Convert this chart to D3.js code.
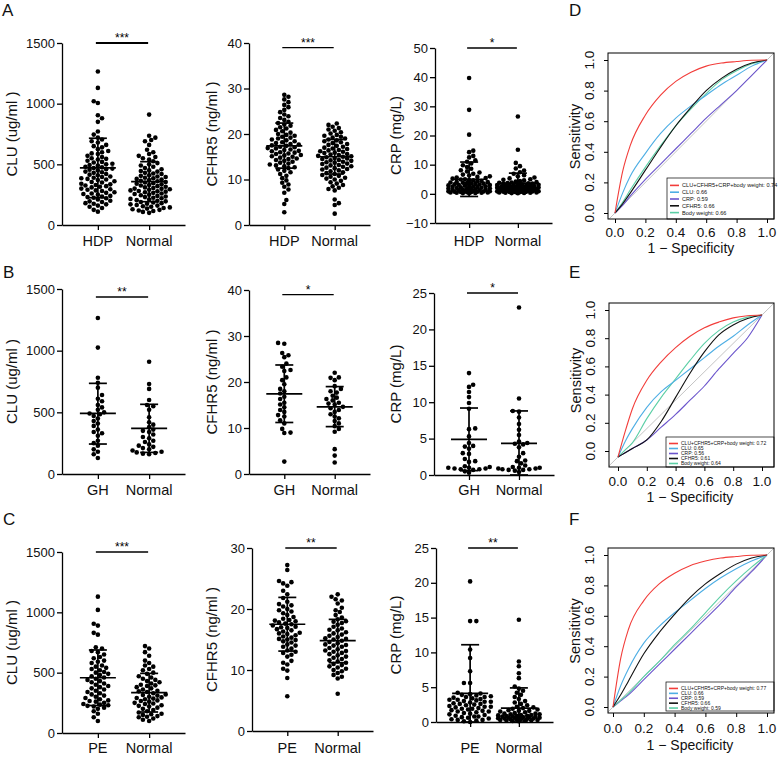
<!DOCTYPE html>
<html>
<head>
<meta charset="utf-8">
<script src="https://cdn.jsdelivr.net/npm/d3@7"></script>
<style>
body { margin: 0; background: #fff; }
svg { display: block; font-family: "Liberation Sans", Arial, sans-serif; }
</style>
</head>
<body>
<svg id="fig" width="778" height="757"></svg>
<script>
// ---- group names and axis ticks ----
const groupsA = ["HDP", "Normal"];
const groupsB = ["GH", "Normal"];
const groupsC = ["PE", "Normal"];

const cluTicks = [0, 500, 1000, 1500];
const cfhr5Ticks40 = [0, 10, 20, 30, 40];
const cfhr5Ticks30 = [0, 10, 20, 30];
const crpTicksA = [-10, 0, 10, 20, 30, 40, 50];
const crpTicks25 = [0, 5, 10, 15, 20, 25];

// ---- row A: HDP vs Normal ----
const cluHdp = [1265,1130,1020,1005,905,880,850,770,745,720,705,690,680,660,650,640,625,610,600,590,
  585,570,560,550,545,540,530,520,515,505,500,495,490,480,475,470,465,460,455,450,
  440,435,430,420,415,410,400,395,390,385,380,375,370,360,355,350,340,335,330,325,
  320,315,310,300,295,290,285,280,270,265,260,255,250,240,235,230,225,220,210,200,
  195,190,180,175,170,160,150,140,125,110];
const cluNormalA = [910,735,720,700,690,660,620,600,585,570,560,550,540,525,510,500,490,480,470,460,
  450,445,440,430,425,420,410,405,400,395,390,385,380,375,370,365,360,355,350,345,
  340,335,330,325,320,315,310,305,300,298,295,290,285,280,278,275,270,265,260,255,
  250,245,240,235,230,225,220,215,210,205,200,195,190,185,180,175,170,165,160,155,
  150,145,140,135,130,125,120,115,108,100];
const cfhr5Hdp = [28.6,28.2,27.6,27.0,26.4,25.9,25.3,24.8,24.3,23.9,23.5,23.1,22.7,22.4,22.1,21.8,21.5,21.2,20.9,20.6,
  20.3,20.0,19.8,19.6,19.4,19.2,19.0,18.8,18.6,18.4,18.2,18.0,17.8,17.7,17.5,17.4,17.2,17.1,16.9,16.8,
  16.6,16.5,16.3,16.2,16.0,15.9,15.7,15.6,15.4,15.3,15.1,15.0,14.8,14.6,14.5,14.3,14.1,13.9,13.7,13.5,
  13.3,13.1,12.9,12.7,12.5,12.2,11.9,11.6,11.2,10.8,10.3,9.8,9.3,8.9,8.4,7.8,7.1,5.5,4.6,2.8];
const cfhr5NormalA = [22.3,22.0,21.6,21.3,21.0,20.7,20.4,20.1,19.8,19.6,19.4,19.2,19.0,18.8,18.6,18.4,18.2,18.0,17.8,17.6,
  17.4,17.2,17.0,16.8,16.7,16.5,16.4,16.2,16.1,15.9,15.8,15.6,15.5,15.4,15.2,15.1,15.0,14.9,14.7,14.6,
  14.5,14.3,14.2,14.1,13.9,13.8,13.7,13.5,13.4,13.2,13.1,12.9,12.8,12.6,12.5,12.3,12.2,12.0,11.8,11.6,
  11.4,11.2,11.0,10.8,10.6,10.4,10.2,10.0,9.7,9.4,9.1,8.8,8.5,8.2,7.9,7.6,5.6,4.8,4.4,2.5];
const crpHdp = [39.7,28.8,20.3,14.8,14.3,13.0,12.5,11.5,11.0,10.4,9.8,9.2,8.6,8.1,7.7,7.3,6.9,6.6,6.3,6.0,
  5.8,5.6,5.4,5.2,5.0,4.9,4.7,4.6,4.4,4.3,4.1,4.0,3.9,3.8,3.7,3.6,3.5,3.4,3.3,3.2,
  3.1,3.0,2.9,2.8,2.7,2.6,2.5,2.4,2.3,2.2,2.1,2.0,1.9,1.8,1.7,1.6,1.5,1.45,1.4,1.3,
  1.25,1.2,1.1,1.0,0.95,0.9,0.85,0.8,0.75,0.7,0.65,0.6,0.55,0.5,0.45,0.4,0.35,0.3,0.25,0.2];
const crpNormalA = [26.5,15.1,10.6,9.5,8.7,8.0,7.4,6.9,6.4,6.0,5.6,5.3,5.0,4.8,4.6,4.4,4.2,4.0,3.9,3.8,
  3.7,3.6,3.5,3.4,3.3,3.2,3.1,3.0,2.9,2.8,2.7,2.6,2.5,2.4,2.3,2.2,2.1,2.0,1.9,1.8,
  1.7,1.6,1.5,1.4,1.3,1.2,1.1,1.0,0.9,0.8,0.7,0.6,0.5,0.4,0.3,0.2,1.95,1.75,1.55,1.35,
  1.15,0.95,0.75,0.55,0.35,2.45,2.65,2.85,3.05,1.45,1.25,1.05,0.85,0.65,0.45,0.25,2.15,2.35,1.65,1.85];

// ---- row B: GH vs Normal ----
const cluGh = [1265,1025,780,740,700,640,610,590,560,540,520,500,490,485,470,450,430,410,390,360,
  340,330,310,270,250,230,200,180,160,130];
const cluNormalB = [910,730,690,600,560,550,520,460,420,400,380,360,350,340,320,300,290,270,260,240,
  230,220,210,200,190,180,175,170,165,160];
const cfhr5Gh = [28.5,28.3,26.3,25.8,25.4,24.0,23.3,22.6,22.4,21.0,20.4,19.5,18.5,18.0,17.5,16.8,16.3,15.5,15.1,14.5,
  13.9,13.5,12.8,12.5,11.7,11.0,9.8,9.0,8.9,2.7];
const cfhr5NormalB = [22.0,21.0,20.9,20.4,19.1,18.5,18.0,17.7,17.0,16.6,16.3,16.0,15.5,15.3,15.1,14.6,14.3,13.9,13.5,13.0,
  12.5,12.1,11.5,11.0,10.4,9.8,9.2,5.4,4.0,2.5];
const crpGh = [14.0,12.4,12.1,11.4,10.7,9.9,9.1,6.4,6.3,5.3,4.4,4.0,3.9,3.6,3.0,2.9,2.2,1.9,1.8,1.2,
  1.1,1.0,1.0,0.9,0.9,0.8,0.8,0.7,0.5,0.3];
const crpNormalB = [23.0,10.5,8.8,8.7,7.9,7.0,6.2,5.5,4.6,4.4,4.3,4.2,3.8,3.0,2.5,2.0,1.9,1.6,1.3,1.1,
  1.0,1.0,0.9,0.9,0.8,0.8,0.7,0.7,0.6,0.4];

// ---- row C: PE vs Normal ----
const cluPe = [1130,1020,905,890,830,815,710,700,680,670,650,630,620,600,590,580,560,550,540,530,
  520,505,500,490,480,470,460,450,440,430,420,410,400,390,380,370,360,350,340,330,
  320,310,300,290,280,270,265,260,250,240,235,230,225,220,210,200,180,160,130,100];
const cluNormalC = [720,700,670,640,600,580,560,550,530,520,500,490,470,460,450,440,430,420,410,400,
  395,390,380,370,360,350,345,340,330,320,315,310,300,295,290,285,280,270,265,260,
  250,245,240,230,225,220,210,200,190,180,170,160,155,150,140,135,130,120,110,100];
const cfhr5Pe = [27.2,26.4,24.6,24.4,24.2,23.8,23.0,22.4,21.8,21.2,20.8,20.6,20.4,20.0,19.8,19.6,19.3,19.0,18.7,18.4,
  18.2,18.1,18.0,17.8,17.6,17.5,17.3,17.1,17.0,16.9,16.7,16.5,16.3,16.1,16.0,15.9,15.7,15.5,15.3,15.1,
  15.0,14.9,14.7,14.5,14.2,14.0,13.8,13.5,13.2,13.0,12.8,12.5,12.2,11.5,11.2,10.9,10.2,9.9,8.7,5.7];
const cfhr5NormalC = [22.4,22.0,21.6,21.4,20.9,20.2,19.8,19.5,19.0,18.6,18.3,18.0,17.9,17.7,17.4,17.1,16.8,16.6,16.5,16.2,
  16.0,15.8,15.6,15.4,15.2,15.1,15.0,14.8,14.6,14.4,14.2,14.1,14.0,13.8,13.6,13.4,13.2,13.1,13.0,12.8,
  12.6,12.4,12.2,12.0,11.8,11.6,11.4,11.2,11.0,10.8,10.6,10.4,10.2,10.0,9.8,9.5,9.2,8.9,8.6,6.1];
const crpPe = [20.2,14.5,14.5,10.4,9.2,7.3,5.6,5.6,4.2,4.1,4.0,3.9,3.8,3.7,3.6,3.6,3.5,3.4,3.3,3.2,
  3.2,3.1,3.0,2.9,2.9,2.8,2.7,2.6,2.6,2.5,2.4,2.3,2.2,2.2,2.1,2.0,1.9,1.9,1.8,1.7,
  1.6,1.5,1.5,1.4,1.3,1.2,1.1,1.0,0.9,0.8,0.8,0.7,0.6,0.5,0.4,0.3,0.3,0.2,0.1,0.0];
const crpNormalC = [14.7,8.7,8.0,7.0,6.3,5.1,4.8,4.5,4.2,3.9,3.6,3.3,3.0,2.8,2.6,2.4,2.2,2.1,2.0,1.9,
  1.8,1.7,1.6,1.6,1.5,1.4,1.3,1.2,1.2,1.1,1.1,1.0,1.0,0.95,0.9,0.9,0.85,0.8,0.8,0.75,
  0.7,0.7,0.7,0.65,0.6,0.6,0.55,0.5,0.5,0.45,0.4,0.4,0.35,0.3,0.3,0.25,0.2,0.2,0.15,0.1];

// ---- mean, lower SD, upper SD ----
const cluStatsA = [[470, 225, 715], [357, 192, 522]];
const cfhr5StatsA = [[17.4, 12.5, 22.4], [15.0, 11.2, 18.8]];
const crpStatsA = [[5.0, -0.9, 10.9], [3.7, 0.3, 7.1]];
const cluStatsB = [[492, 243, 735], [370, 175, 565]];
const cfhr5StatsB = [[17.4, 11.2, 23.7], [14.6, 10.3, 19.0]];
const crpStatsB = [[4.9, 0.6, 9.2], [4.35, 0, 8.8]];
const cluStatsC = [[458, 228, 688], [334, 174, 494]];
const cfhr5StatsC = [[17.5, 13.1, 21.9], [14.8, 11.2, 18.3]];
const crpStatsC = [[4.1, 0, 11.1], [2.0, 0, 4.9]];

// ---- ROC curves (sensitivity at each 1 - specificity) ----
const fpr = [0, 0.05, 0.1, 0.2, 0.3, 0.4, 0.5, 0.6, 0.7, 0.8, 0.9, 1];
const rocNames = ["CLU+CFHR5+CRP+body weight", "CLU", "CRP", "CFHR5", "Body weight"];
const rocColors = ["#f23d3a", "#4eaee4", "#6b55cc", "#111111", "#5ccfa6"];

const rocD = [
  [0, 0.27, 0.44, 0.64, 0.77, 0.86, 0.92, 0.96, 0.98, 0.99, 0.998, 1],
  [0, 0.13, 0.24, 0.39, 0.52, 0.62, 0.70, 0.77, 0.84, 0.90, 0.96, 1],
  [0, 0.05, 0.11, 0.22, 0.32, 0.42, 0.52, 0.62, 0.71, 0.80, 0.90, 1],
  [0, 0.06, 0.13, 0.28, 0.43, 0.57, 0.69, 0.80, 0.88, 0.94, 0.98, 1],
  [0, 0.07, 0.15, 0.30, 0.44, 0.57, 0.68, 0.78, 0.87, 0.93, 0.975, 1]
];
const rocE = [
  [0, 0.18, 0.34, 0.54, 0.67, 0.77, 0.85, 0.91, 0.95, 0.98, 0.995, 1],
  [0, 0.11, 0.20, 0.35, 0.46, 0.54, 0.62, 0.70, 0.78, 0.85, 0.93, 1],
  [0, 0.03, 0.06, 0.12, 0.21, 0.30, 0.40, 0.50, 0.62, 0.73, 0.84, 1],
  [0, 0.03, 0.06, 0.12, 0.25, 0.42, 0.59, 0.74, 0.86, 0.93, 0.975, 1],
  [0, 0.05, 0.10, 0.27, 0.42, 0.55, 0.68, 0.80, 0.89, 0.95, 0.985, 1]
];
const rocF = [
  [0, 0.32, 0.51, 0.70, 0.81, 0.88, 0.93, 0.96, 0.98, 0.99, 0.998, 1],
  [0, 0.14, 0.25, 0.42, 0.53, 0.62, 0.70, 0.78, 0.85, 0.91, 0.96, 1],
  [0, 0.04, 0.08, 0.18, 0.28, 0.38, 0.48, 0.58, 0.68, 0.79, 0.89, 1],
  [0, 0.08, 0.17, 0.35, 0.49, 0.61, 0.72, 0.81, 0.88, 0.94, 0.98, 1],
  [0, 0.045, 0.09, 0.20, 0.30, 0.41, 0.51, 0.62, 0.73, 0.83, 0.92, 1]
];
const aucD = [0.74, 0.66, 0.59, 0.66, 0.66];
const aucE = [0.72, 0.65, 0.56, 0.61, 0.64];
const aucF = [0.77, 0.66, 0.59, 0.66, 0.59];
const rocTicks = [0, 0.2, 0.4, 0.6, 0.8, 1];

const svg = d3.select("#fig");

// simple beeswarm: x offsets so dots don't pile up (overlap allowed once too wide)
function swarm(ys, r, maxHalf) {
  const placed = [];
  const out = new Array(ys.length);
  const order = ys.map((y, i) => ({ y, i })).sort((a, b) => b.y - a.y);
  const step = r * 0.9;
  const dmin = 2 * r * 0.95;
  order.forEach((p, n) => {
    let best = 0, bestScore = -1;
    const flip = n % 2 ? -1 : 1;
    outer:
    for (let k = 0; k * step <= maxHalf; k++) {
      const signs = k === 0 ? [1] : [flip, -flip];
      for (const s of signs) {
        const x = s * k * step;
        let md = Infinity;
        for (const q of placed) {
          const d = Math.hypot(q.x - x, q.y - p.y);
          if (d < md) md = d;
        }
        if (md >= dmin) { best = x; break outer; }
        if (md > bestScore) { bestScore = md; best = x; }
      }
    }
    placed.push({ x: best, y: p.y });
    out[p.i] = best;
  });
  return out;
}

const panels = [
  { x0: 62, yB: 225, yT: 43, dom: [0, 1500], ticks: cluTicks, w: 123, groups: groupsA, data: [cluHdp, cluNormalA], stats: cluStatsA, title: "CLU (ug/ml )", titleX: 17, sig: "***", sigAt: 1500, sigW: 2.2, labelY: 246 },
  { x0: 249, yB: 225, yT: 43, dom: [0, 40], ticks: cfhr5Ticks40, w: 121, groups: groupsA, data: [cfhr5Hdp, cfhr5NormalA], stats: cfhr5StatsA, title: "CFHR5 (ng/ml )", titleX: 217, sig: "***", sigAt: 39, sigW: 1.3, labelY: 246 },
  { x0: 435, yB: 223, yT: 48, dom: [-10, 50], ticks: crpTicksA, w: 117, groups: groupsA, data: [crpHdp, crpNormalA], stats: crpStatsA, title: "CRP (mg/L)", titleX: 401, sig: "*", sigAt: 50, sigW: 1.3, labelY: 246 },
  { x0: 62, yB: 474, yT: 289, dom: [0, 1500], ticks: cluTicks, w: 123, groups: groupsB, data: [cluGh, cluNormalB], stats: cluStatsB, title: "CLU (ug/ml )", titleX: 17, sig: "**", sigAt: 1435, sigW: 1.3, labelY: 495 },
  { x0: 249, yB: 474, yT: 290, dom: [0, 40], ticks: cfhr5Ticks40, w: 121, groups: groupsB, data: [cfhr5Gh, cfhr5NormalB], stats: cfhr5StatsB, title: "CFHR5 (ng/ml )", titleX: 217, sig: "*", sigAt: 39, sigW: 1.3, labelY: 495 },
  { x0: 434, yB: 475, yT: 293, dom: [0, 25], ticks: crpTicks25, w: 120, groups: groupsB, data: [crpGh, crpNormalB], stats: crpStatsB, title: "CRP (mg/L)", titleX: 401, sig: "*", sigAt: 25, sigW: 1.3, labelY: 495 },
  { x0: 62, yB: 733, yT: 552, dom: [0, 1500], ticks: cluTicks, w: 123, groups: groupsC, data: [cluPe, cluNormalC], stats: cluStatsC, title: "CLU (ug/ml )", titleX: 17, sig: "***", sigAt: 1500, sigW: 1.3, labelY: 753 },
  { x0: 252, yB: 731, yT: 548, dom: [0, 30], ticks: cfhr5Ticks30, w: 121, groups: groupsC, data: [cfhr5Pe, cfhr5NormalC], stats: cfhr5StatsC, title: "CFHR5 (ng/ml )", titleX: 217, sig: "**", sigAt: 30, sigW: 1.3, labelY: 753 },
  { x0: 436, yB: 722, yT: 548, dom: [0, 25], ticks: crpTicks25, w: 117, groups: groupsC, data: [crpPe, crpNormalC], stats: crpStatsC, title: "CRP (mg/L)", titleX: 401, sig: "**", sigAt: 25, sigW: 1.3, labelY: 753 }
];

function drawScatter(p) {
  const g = svg.append("g");
  const y = d3.scaleLinear().domain(p.dom).range([p.yB, p.yT]);
  const x = d3.scalePoint().domain(p.groups).range([p.x0, p.x0 + p.w]).padding(0.7);

  const yAxis = g.append("g")
    .attr("transform", `translate(${p.x0},0)`)
    .call(d3.axisLeft(y).tickValues(p.ticks).tickFormat(d3.format("d"))
      .tickSize(5).tickSizeOuter(0).tickPadding(2));
  yAxis.attr("font-size", 13).attr("font-family", null);
  yAxis.selectAll("path, line").attr("stroke-width", 1.3);
  yAxis.selectAll("text").attr("fill", "#111");

  const xAxis = g.append("g")
    .attr("transform", `translate(0,${p.yB})`)
    .call(d3.axisBottom(x).tickSize(5).tickSizeOuter(0).tickFormat(""));
  xAxis.selectAll("path, line").attr("stroke-width", 1.3);

  g.selectAll(".grp").data(p.groups).join("text")
    .attr("x", d => x(d)).attr("y", p.labelY)
    .attr("text-anchor", "middle").attr("font-size", 14.5).attr("fill", "#111")
    .text(d => d);

  const midY = (p.yB + p.yT) / 2;
  g.append("text")
    .attr("transform", `translate(${p.titleX},${midY}) rotate(-90)`)
    .attr("text-anchor", "middle").attr("font-size", 15).attr("fill", "#111")
    .text(p.title);

  p.groups.forEach((grp, gi) => {
    const vals = p.data[gi];
    const ys = vals.map(v => y(v));
    const dx = swarm(ys, 2.3, 21);
    g.append("g").selectAll("circle").data(vals).join("circle")
      .attr("cx", (d, i) => x(grp) + dx[i])
      .attr("cy", d => y(d))
      .attr("r", 2.3)
      .attr("fill", "#000");

    const [m, lo, hi] = p.stats[gi];
    const cx = x(grp);
    const bars = g.append("g").attr("stroke", "#000").attr("stroke-width", 1.7);
    bars.append("line").attr("x1", cx).attr("x2", cx).attr("y1", y(lo)).attr("y2", y(hi));
    bars.append("line").attr("x1", cx - 9).attr("x2", cx + 9).attr("y1", y(lo)).attr("y2", y(lo));
    bars.append("line").attr("x1", cx - 9).attr("x2", cx + 9).attr("y1", y(hi)).attr("y2", y(hi));
    bars.append("line").attr("x1", cx - 18).attr("x2", cx + 18).attr("y1", y(m)).attr("y2", y(m));
  });

  const sy = y(p.sigAt);
  const xa = x(p.groups[0]) - 2, xb = x(p.groups[1]) - 1;
  g.append("line").attr("x1", xa).attr("x2", xb).attr("y1", sy).attr("y2", sy)
    .attr("stroke", "#000").attr("stroke-width", p.sigW);
  g.append("text").attr("x", (xa + xb) / 2).attr("y", sy - 1)
    .attr("text-anchor", "middle").attr("font-size", 12).text(p.sig);
}

panels.forEach(drawScatter);

// ---- ROC panels ----
const rocPanels = [
  { curves: rocD, auc: aucD, box: [608, 774, 53, 219], xr: [615, 767], yr: [213, 60], cr: [213, 60], tickY: 237, titleY: 253, leg: [667, 178, 219], legStep: 6.8, legFont: 5.6 },
  { curves: rocE, auc: aucE, box: [609, 774, 303, 467], xr: [618, 762], yr: [451, 310], cr: [457, 315], tickY: 486, titleY: 502, leg: [666, 437, 467], legStep: 5, legFont: 5 },
  { curves: rocF, auc: aucF, box: [608, 774, 548, 713], xr: [613, 767], yr: [707, 555], cr: [707, 555], tickY: 733, titleY: 750, leg: [666, 682, 711], legStep: 4.9, legFont: 5 }
];

rocPanels.forEach((p, pi) => {
  const g = svg.append("g");
  const [bl, br, bt, bb] = p.box;
  const x = d3.scaleLinear().domain([0, 1]).range(p.xr);
  const y = d3.scaleLinear().domain([0, 1]).range(p.yr);
  const cy = d3.scaleLinear().domain([0, 1]).range(p.cr);

  const clipId = "clip" + pi;
  g.append("clipPath").attr("id", clipId).append("rect")
    .attr("x", bl).attr("y", bt).attr("width", br - bl).attr("height", bb - bt);

  const plot = g.append("g").attr("clip-path", `url(#${clipId})`);
  plot.append("line")
    .attr("x1", x(-0.1)).attr("y1", cy(-0.1)).attr("x2", x(1.1)).attr("y2", cy(1.1))
    .attr("stroke", "#c4c4c4").attr("stroke-width", 1);

  const line = d3.line().x((d, i) => x(fpr[i])).y(d => cy(d)).curve(d3.curveMonotoneX);
  [2, 4, 1, 3, 0].forEach(ci => {
    plot.append("path").attr("d", line(p.curves[ci]))
      .attr("fill", "none").attr("stroke", rocColors[ci]).attr("stroke-width", 1.1);
  });

  // legend (bottom right)
  const [lx, lt, lb] = p.leg;
  g.append("rect").attr("x", lx).attr("y", lt).attr("width", br - lx).attr("height", lb - lt)
    .attr("fill", "#fff").attr("stroke", "#000").attr("stroke-width", 0.7);
  rocNames.forEach((name, i) => {
    const ry = lt + 4 + p.legStep * (i + 0.5);
    g.append("line").attr("x1", lx + 3).attr("x2", lx + 12).attr("y1", ry).attr("y2", ry)
      .attr("stroke", rocColors[i]).attr("stroke-width", 1.6);
    g.append("text").attr("x", lx + 15).attr("y", ry).attr("dy", "0.35em")
      .attr("font-size", p.legFont).attr("fill", "#111")
      .text(`${name}: ${p.auc[i].toFixed(2)}`);
  });

  g.append("rect").attr("x", bl).attr("y", bt).attr("width", br - bl).attr("height", bb - bt)
    .attr("fill", "none").attr("stroke", "#000").attr("stroke-width", 1);

  const xAxis = g.append("g").attr("transform", `translate(0,${bb})`)
    .call(d3.axisBottom(x).tickValues(rocTicks).tickSize(4).tickFormat(""));
  xAxis.select(".domain").remove();
  const yAxis = g.append("g").attr("transform", `translate(${bl},0)`)
    .call(d3.axisLeft(y).tickValues(rocTicks).tickSize(4).tickFormat(""));
  yAxis.select(".domain").remove();

  g.selectAll(".xt").data(rocTicks).join("text")
    .attr("x", d => x(d)).attr("y", p.tickY)
    .attr("text-anchor", "middle").attr("font-size", 13.5).attr("fill", "#111")
    .text(d3.format(".1f"));
  g.selectAll(".yt").data(rocTicks).join("text")
    .attr("transform", d => `translate(${bl - 14},${y(d)}) rotate(-90)`)
    .attr("text-anchor", "middle").attr("font-size", 13.5).attr("fill", "#111")
    .text(d3.format(".1f"));

  g.append("text").attr("x", (p.xr[0] + p.xr[1]) / 2).attr("y", p.titleY)
    .attr("text-anchor", "middle").attr("font-size", 14).attr("fill", "#111")
    .text("1 \u2212 Specificity");
  g.append("text")
    .attr("transform", `translate(${bl - 28},${(p.yr[0] + p.yr[1]) / 2}) rotate(-90)`)
    .attr("text-anchor", "middle").attr("font-size", 14.5).attr("fill", "#111")
    .text("Sensitivity");
});

// panel letters
const letters = ["A", "B", "C", "D", "E", "F"];
const letterPos = [[2, 16], [3, 278], [3, 525], [569, 16], [569, 278], [569, 525]];
svg.selectAll(".letter").data(letters).join("text")
  .attr("x", (d, i) => letterPos[i][0]).attr("y", (d, i) => letterPos[i][1])
  .attr("font-size", 17).attr("fill", "#111").text(d => d);
</script>
</body>
</html>
